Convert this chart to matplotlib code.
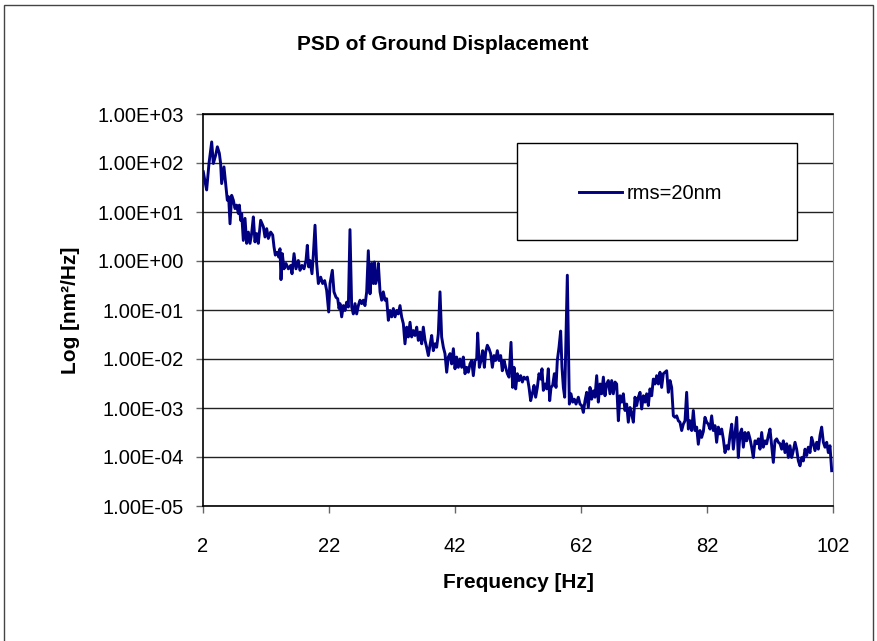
import matplotlib.pyplot as plt
import numpy as np
from matplotlib.patches import Rectangle
from matplotlib.ticker import FuncFormatter, NullLocator

plt.rcParams['font.family'] = ['Liberation Sans', 'DejaVu Sans']

# values (frequency in Hz, log10 of PSD in nm^2/Hz)
freq = [
    2.05, 2.32, 2.58, 2.95, 3.38, 3.64, 4.01, 4.28, 4.59, 4.80, 4.96, 5.33,
    5.65, 5.86, 6.07, 6.29, 6.55, 6.82, 7.08, 7.34, 7.61, 7.77, 7.98, 8.14,
    8.40, 8.67, 8.93, 9.20, 9.46, 9.72, 9.99, 10.25, 10.52, 10.78, 11.15, 11.58,
    11.84, 12.11, 12.37, 12.74, 13.06, 13.27, 13.48, 13.80, 14.01, 14.22, 14.38, 14.59,
    14.86, 15.17, 15.55, 15.92, 16.13, 16.45, 16.76, 17.13, 17.40, 17.71, 18.03, 18.35,
    18.56, 18.77, 18.98, 19.30, 19.51, 19.78, 20.04, 20.31, 20.68, 20.99, 21.31, 21.63,
    21.95, 22.16, 22.53, 22.79, 23.11, 23.38, 23.59, 23.75, 24.01, 24.28, 24.54, 24.80,
    25.07, 25.33, 25.60, 25.86, 26.13, 26.39, 26.66, 26.92, 27.19, 27.45, 27.71, 27.98,
    28.24, 28.51, 28.77, 29.04, 29.20, 29.41, 29.67, 29.83, 30.10, 30.36, 30.62, 30.89,
    31.15, 31.42, 31.68, 31.95, 32.21, 32.48, 32.74, 33.00, 33.27, 33.53, 33.80, 34.06,
    34.33, 34.59, 34.86, 35.12, 35.39, 35.65, 35.92, 36.18, 36.45, 36.71, 36.97, 37.24,
    37.50, 37.77, 38.03, 38.30, 38.56, 38.83, 39.09, 39.35, 39.62, 39.88, 40.15, 40.41,
    40.68, 40.94, 41.21, 41.47, 41.74, 42.00, 42.26, 42.53, 42.79, 43.06, 43.32, 43.59,
    43.85, 44.12, 44.38, 44.65, 44.91, 45.17, 45.44, 45.60, 45.86, 46.13, 46.39, 46.66,
    46.87, 47.13, 47.40, 47.66, 47.93, 48.19, 48.45, 48.72, 48.98, 49.25, 49.51, 49.78,
    50.04, 50.31, 50.57, 50.89, 51.15, 51.37, 51.63, 51.89, 52.16, 52.42, 52.69, 52.95,
    53.22, 53.48, 53.75, 54.01, 54.27, 54.54, 54.80, 55.07, 55.33, 55.60, 55.81, 56.02,
    56.29, 56.55, 56.81, 57.03, 57.24, 57.50, 57.77, 58.03, 58.24, 58.51, 58.77, 58.98,
    59.20, 59.41, 59.83, 60.15, 60.41, 60.68, 60.94, 61.21, 61.58, 61.84, 62.11, 62.37,
    62.64, 62.90, 63.16, 63.43, 63.69, 63.96, 64.22, 64.49, 64.75, 65.02, 65.28, 65.55,
    65.81, 66.07, 66.34, 66.60, 66.87, 67.13, 67.40, 67.66, 67.93, 68.19, 68.46, 68.72,
    68.98, 69.25, 69.51, 69.78, 70.04, 70.31, 70.57, 70.84, 71.10, 71.37, 71.63, 71.90,
    72.16, 72.42, 72.69, 72.95, 73.22, 73.48, 73.75, 74.01, 74.28, 74.54, 74.80, 75.07,
    75.33, 75.60, 75.86, 76.13, 76.39, 76.66, 76.92, 77.19, 77.45, 77.71, 77.98, 78.24,
    78.51, 78.77, 79.04, 79.30, 79.57, 79.83, 80.10, 80.36, 80.62, 80.89, 81.15, 81.42,
    81.68, 81.95, 82.21, 82.48, 82.74, 83.00, 83.27, 83.53, 83.80, 84.06, 84.33, 84.59,
    84.86, 85.12, 85.39, 85.65, 85.92, 86.18, 86.44, 86.71, 86.97, 87.24, 87.50, 87.77,
    88.03, 88.30, 88.56, 88.83, 89.09, 89.35, 89.62, 89.88, 90.15, 90.41, 90.68, 90.94,
    91.21, 91.47, 91.74, 92.00, 92.26, 92.53, 92.79, 93.06, 93.32, 93.59, 93.85, 94.12,
    94.38, 94.65, 94.91, 95.17, 95.44, 95.70, 95.97, 96.23, 96.50, 96.76, 97.03, 97.29,
    97.56, 97.82, 98.08, 98.35, 98.61, 98.88, 99.14, 99.41, 99.67, 99.94, 100.20, 100.47,
    100.73, 101.00, 101.26, 101.52, 101.79,
]
log_psd = [
    1.82, 1.62, 1.45, 1.99, 2.43, 1.99, 2.16, 2.33, 2.20, 1.99, 1.58, 1.92,
    1.51, 1.24, 1.31, 0.76, 1.34, 1.24, 1.07, 1.14, 0.97, 1.14, 0.83, 0.97,
    0.42, 0.87, 0.36, 0.59, 0.36, 0.56, 0.90, 0.39, 0.56, 0.36, 0.83, 0.70,
    0.49, 0.66, 0.46, 0.59, 0.53, 0.29, 0.12, 0.18, 0.08, 0.25, -0.38, 0.15,
    -0.16, -0.05, -0.16, -0.09, -0.26, 0.15, -0.16, 0.01, -0.19, -0.09, -0.16, 0.01,
    0.32, -0.12, 0.01, -0.26, 0.12, 0.73, -0.05, -0.46, -0.33, -0.46, -0.40, -0.60,
    -1.04, -0.46, -0.19, -0.63, -0.74, -0.77, -0.97, -0.87, -1.14, -0.91, -1.01, -0.84,
    -0.94, 0.64, -0.94, -1.08, -0.87, -1.08, -0.91, -0.80, -0.87, -0.80, -0.91, -0.63,
    0.21, -0.67, -0.05, -0.46, -0.02, -0.46, -0.33, -0.05, -0.63, -0.80, -0.63, -0.80,
    -0.77, -1.21, -1.01, -1.14, -0.97, -1.14, -1.01, -1.08, -0.91, -1.14, -1.28, -1.69,
    -1.35, -1.55, -1.25, -1.55, -1.42, -1.52, -1.35, -1.62, -1.45, -1.69, -1.35, -1.62,
    -1.76, -1.93, -1.72, -1.52, -1.83, -1.69, -1.76, -1.49, -0.63, -1.55, -1.76, -1.89,
    -2.27, -1.96, -1.89, -2.10, -1.79, -2.20, -1.96, -2.17, -2.00, -2.17, -1.96, -2.30,
    -2.17, -2.27, -2.10, -2.03, -2.34, -2.03, -2.00, -1.47, -2.17, -2.03, -1.83, -2.17,
    -1.86, -1.72, -1.79, -1.89, -2.17, -1.93, -2.03, -1.83, -2.03, -1.93, -2.24, -2.03,
    -2.17, -2.30, -2.37, -1.66, -2.58, -2.17, -2.61, -2.30, -2.44, -2.34, -2.47, -2.37,
    -2.41, -2.37, -2.58, -2.85, -2.71, -2.54, -2.78, -2.58, -2.30, -2.41, -2.20, -2.64,
    -2.51, -2.61, -2.20, -2.85, -2.58, -2.54, -2.30, -2.58, -2.03, -1.76, -1.43, -2.17,
    -2.58, -2.78, -0.29, -2.92, -2.71, -2.88, -2.82, -2.92, -2.78, -2.92, -2.95, -3.09,
    -2.85, -2.68, -2.99, -2.58, -2.82, -2.65, -2.78, -2.34, -2.88, -2.51, -2.71, -2.37,
    -2.75, -2.51, -2.44, -2.71, -2.44, -2.71, -2.47, -2.51, -3.26, -2.75, -2.88, -2.71,
    -3.05, -2.92, -3.29, -2.99, -3.12, -3.29, -2.78, -2.95, -2.78, -2.68, -3.02, -2.75,
    -2.88, -2.71, -2.95, -2.61, -2.75, -2.41, -2.51, -2.34, -2.51, -2.27, -2.58, -2.30,
    -2.27, -2.24, -2.68, -2.44, -2.58, -3.16, -3.19, -3.16, -3.26, -3.29, -3.46, -3.33,
    -3.26, -2.68, -3.43, -3.26, -3.46, -3.05, -3.46, -3.39, -3.74, -3.46, -3.60, -3.48,
    -3.19, -3.29, -3.33, -3.43, -3.16, -3.46, -3.36, -3.70, -3.39, -3.53, -3.43, -3.63,
    -3.91, -3.77, -3.84, -3.56, -3.33, -3.84, -3.53, -3.19, -4.01, -3.53, -3.43, -3.80,
    -3.50, -3.67, -3.50, -3.63, -3.80, -4.01, -3.67, -3.73, -3.63, -3.84, -3.50, -3.80,
    -3.67, -3.73, -3.56, -3.43, -3.77, -4.11, -3.67, -3.63, -3.70, -3.73, -3.84, -3.67,
    -3.91, -3.73, -4.01, -3.77, -4.01, -3.87, -3.70, -3.84, -4.08, -4.18, -4.01, -4.08,
    -3.84, -3.97, -3.80, -3.91, -3.60, -3.73, -3.87, -3.70, -3.84, -3.56, -3.39, -3.70,
    -3.80, -3.70, -3.91, -3.77, -4.28,
]
x_ticks = [2, 22, 42, 62, 82, 102]
y_ticks = [1e-5, 1e-4, 1e-3, 1e-2, 1e-1, 1e0, 1e1, 1e2, 1e3]

psd = 10.0 ** np.array(log_psd)

fig = plt.figure(figsize=(8.78, 6.41), dpi=100)
ax = fig.add_axes([203 / 878, 1 - 506 / 641, 630 / 878, 392 / 641])

ax.semilogy(freq, psd, color='#000080', lw=2.1, label='rms=20nm', zorder=3)
ax.set_xlim(2, 102)
ax.set_ylim(1e-5, 1e3)
ax.set_xticks(x_ticks)
ax.set_yticks(y_ticks)
ax.yaxis.set_minor_locator(NullLocator())
ax.yaxis.set_major_formatter(FuncFormatter(lambda v, p: f'{v:.2E}'))
ax.grid(axis='y', color='#222222', lw=1)
ax.tick_params(labelsize=14.5, length=5, width=1, color='#666666')
ax.tick_params(axis='x', pad=17)
ax.tick_params(axis='y', pad=9)
for side in ['left', 'bottom', 'top']:
    ax.spines[side].set_color('black')
    ax.spines[side].set_linewidth(1.2)
ax.spines['right'].set_color('#808080')

# legend box
ax.add_patch(Rectangle((0.498, 0.679), 0.445, 0.247, transform=ax.transAxes,
                       facecolor='white', edgecolor='black', lw=1, zorder=4))
ax.legend(loc='center', bbox_to_anchor=(0.71, 0.798), frameon=False,
          fontsize=14.5, handlelength=2.15, handletextpad=0.2).set_zorder(5)

fig.text(443 / 878, 1 - 45 / 641, 'PSD of Ground Displacement', ha='center', va='center',
         fontsize=15, fontweight='bold')
fig.text(518 / 878, 1 - 583 / 641, 'Frequency [Hz]', ha='center', va='center',
         fontsize=15, fontweight='bold')
fig.text(70 / 878, 1 - 310 / 641, 'Log [nm²/Hz]', ha='center', va='center',
         rotation=90, fontsize=15, fontweight='bold')

# outer chart border
fig.patches.append(Rectangle((4 / 878, -0.05), 869 / 878, 1.05 - 5 / 641,
                             transform=fig.transFigure, fill=False,
                             edgecolor='#444444', lw=1))

fig.savefig('out.png', dpi=100)
